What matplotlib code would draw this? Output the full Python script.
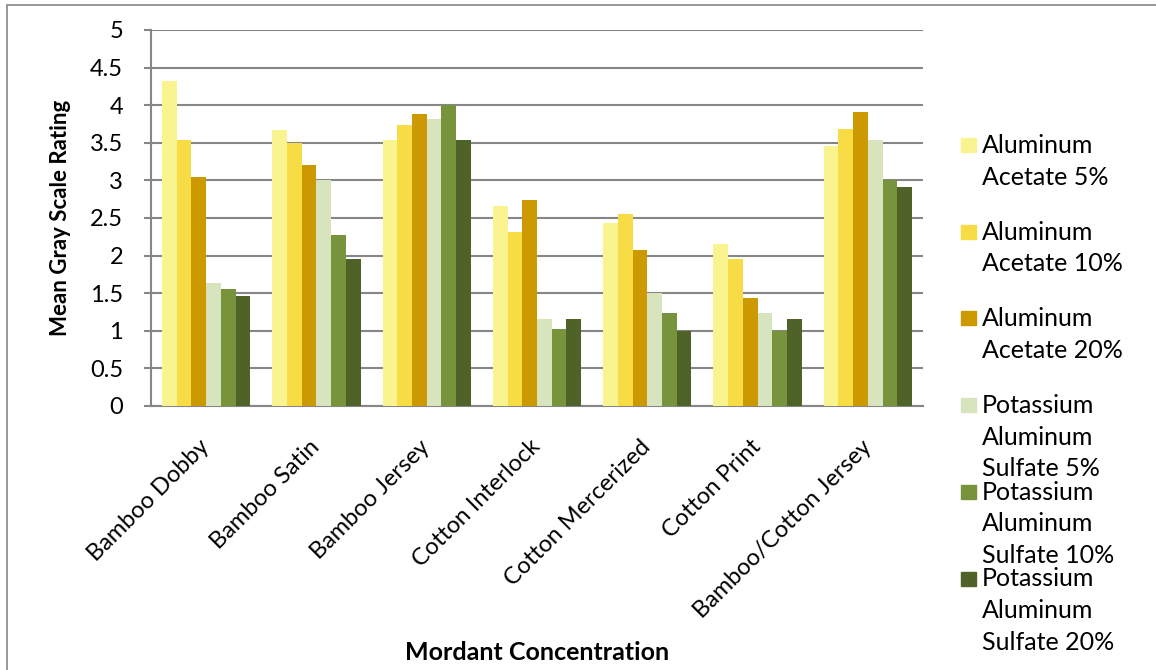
import matplotlib.pyplot as plt
import numpy as np
from matplotlib.patches import Rectangle

plt.rcParams['font.family'] = ['Lato', 'DejaVu Sans']

# fabric types on the x axis
fabrics = ["Bamboo Dobby", "Bamboo Satin", "Bamboo Jersey", "Cotton Interlock",
           "Cotton Mercerized", "Cotton Print", "Bamboo/Cotton Jersey"]

# mean gray scale rating per mordant
aa5 = [4.32, 3.67, 3.54, 2.66, 2.43, 2.16, 3.46]
aa10 = [3.54, 3.50, 3.74, 2.32, 2.55, 1.96, 3.68]
aa20 = [3.05, 3.21, 3.88, 2.74, 2.08, 1.43, 3.91]
pas5 = [1.63, 3.00, 3.82, 1.16, 1.50, 1.24, 3.54]
pas10 = [1.55, 2.28, 4.00, 1.02, 1.24, 1.00, 3.00]
pas20 = [1.46, 1.96, 3.54, 1.16, 1.00, 1.16, 2.91]

labels = ["Aluminum\nAcetate 5%", "Aluminum\nAcetate 10%", "Aluminum\nAcetate 20%",
          "Potassium\nAluminum\nSulfate 5%", "Potassium\nAluminum\nSulfate 10%",
          "Potassium\nAluminum\nSulfate 20%"]
colors = ["#FAF490", "#F7DC45", "#CC9900", "#D7E4BD", "#77933C", "#4F6228"]

series = [aa5, aa10, aa20, pas5, pas10, pas20]

W, H = 1156, 670
fig = plt.figure(figsize=(W / 100, H / 100), dpi=100)
ax = fig.add_axes([151 / W, 1 - 406 / H, 772 / W, 376 / H])

x = np.arange(len(fabrics))
bw = 0.8 / 6
for i, vals in enumerate(series):
    ax.bar(x - 0.4 + bw * (i + 0.5), vals, width=bw, color=colors[i], zorder=3)

ax.set_xlim(-0.5, len(fabrics) - 0.5)
ax.set_ylim(0, 5)
ax.set_yticks(np.arange(0, 5.01, 0.5))
ax.set_yticklabels(["0", "0.5", "1", "1.5", "2", "2.5", "3", "3.5", "4", "4.5", "5"])
ax.yaxis.grid(True, color="#868686", linewidth=1.5, zorder=0)
ax.set_axisbelow(True)

for s in ["top", "right"]:
    ax.spines[s].set_visible(False)
for s in ["left", "bottom"]:
    ax.spines[s].set_color("#868686")
    ax.spines[s].set_linewidth(1.5)

ax.tick_params(axis="y", length=5, width=1.5, color="#868686", labelsize=17, pad=15)
ax.tick_params(axis="x", length=0, labelsize=17, pad=27)
ax.set_xticks(x)
ax.set_xticklabels(fabrics, rotation=45, ha="right", va="center", rotation_mode="anchor")

ax.set_ylabel("Mean Gray Scale Rating", fontsize=16, fontweight="bold", labelpad=14)
fig.text(537 / W, 1 - 653 / H, "Mordant Concentration", fontsize=18,
         fontweight="bold", ha="center", va="center")

# legend drawn by hand so the swatch sits on the first line
for i, lab in enumerate(labels):
    yc = 145 + 86.7 * i
    fig.add_artist(Rectangle((961 / W, 1 - (yc + 7) / H), 15 / W, 14 / H,
                             transform=fig.transFigure, color=colors[i]))
    fig.text(982 / W, 1 - (yc - 11) / H, lab, fontsize=18, va="top", ha="left",
             linespacing=1.45)

# chart frame
fig.add_artist(Rectangle((7 / W, -0.1), 1.2, 1 - 5 / H + 0.1, transform=fig.transFigure,
                         fill=False, edgecolor="#868686", linewidth=1.2))

fig.savefig("out.png", dpi=100)
